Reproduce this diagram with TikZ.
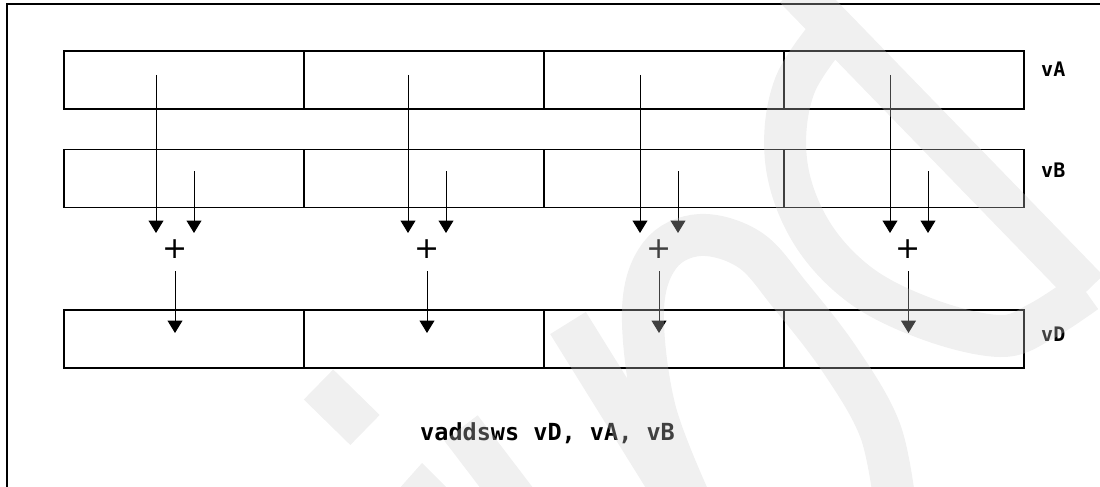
\documentclass[tikz,border=0pt]{standalone}
\usepackage{fontspec}
\setmonofont{DejaVu Sans Mono}
\newfontfamily\plusfont{DejaVu Sans}
\usetikzlibrary{arrows.meta}
\begin{document}
\begin{tikzpicture}[x=1pt,y=-1pt,
  cell/.style={draw, line width=1.3pt, minimum width=240pt, minimum height=58pt, inner sep=0pt},
  arr/.style={line width=1pt, -{Triangle[width=15pt,length=12.5pt]}},
  plusnode/.style={font=\plusfont\fontsize{30}{30}\selectfont, inner sep=0pt},
  reglabel/.style={font=\ttfamily\bfseries\fontsize{20}{24}\selectfont, anchor=base west, inner sep=0pt},
  cmdtext/.style={font=\ttfamily\bfseries\fontsize{23.5}{28}\selectfont, anchor=base west, inner sep=0pt},
  framestyle/.style={line width=1.4pt},
  wmark/.style={draw=black!19, line width=42pt, line cap=butt, opacity=0.31},
  wmarkfill/.style={fill=black!19, opacity=0.31},
]
\useasboundingbox (0,0) rectangle (1100,487);
% frame
\draw[framestyle] (7,492) -- (7,4) -- (1104,4);
% register cells
\foreach \i/\x in {1/184,2/424,3/664,4/904} {
  \node[cell] (A\i) at (\x,80) {};
  \node[cell] (B\i) at (\x,178.5) {};
  \node[cell] (D\i) at (\x,339) {};
}
% register labels
\node[reglabel] (LA) at (1041,77) {vA};
\node[reglabel] (LB) at (1041,177) {vB};
\node[reglabel] (LD) at (1041,341) {vD};
% adders and arrows
\foreach \i/\a/\b/\p in {1/156/194/175, 2/408/446/427, 3/640/678/659, 4/890/928/908.5} {
  \node[plusnode] (P\i) at (\p,249.5) {+};
  \coordinate (as\i) at (\a,75);
  \coordinate (ae\i) at (\a,233);
  \coordinate (bs\i) at (\b,171);
  \coordinate (be\i) at (\b,233);
  \coordinate (ds\i) at (\p,271);
  \coordinate (de\i) at (\p,333);
  \draw[arr] (as\i) -- (ae\i);
  \draw[arr] (bs\i) -- (be\i);
  \draw[arr] (ds\i) -- (de\i);
}
% instruction
\node[cmdtext] (CMD) at (420,440) {vaddsws vD, vA, vB};
% watermark
\draw[wmark]
  (318.5,384.5) -- (365,430)
  (461,428) -- (522,508)
  (568,323) -- (678,500)
  (795,-12) -- (1088,290)
  plot[smooth, tension=0.6] coordinates {(692,505) (655,410) (643,310) (660,255) (700,235) (750,250) (790,295) (840,360) (880,430) (895,505)}
  plot[smooth, tension=0.6] coordinates {(840,20) (795,85) (786,160) (810,230) (860,285) (930,320) (1000,336) (1040,322) (1086,292)};
\fill[wmarkfill] (398,490) -- (422,463) -- (449,490) -- cycle;
\end{tikzpicture}
\end{document}
